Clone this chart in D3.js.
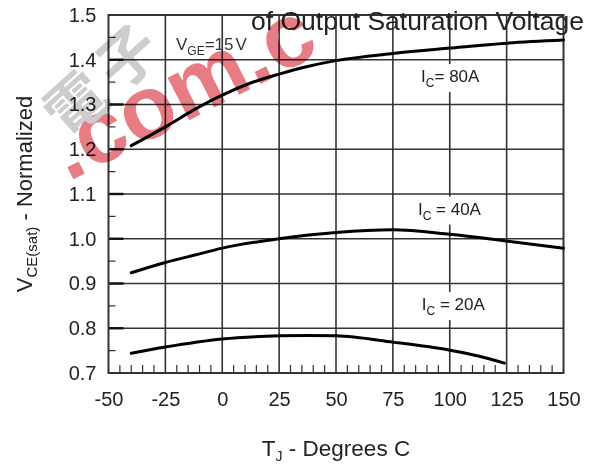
<!DOCTYPE html>
<html>
<head>
<meta charset="utf-8">
<script src="https://cdn.jsdelivr.net/npm/d3@7"></script>
<style>
  html, body { margin: 0; padding: 0; background: #fff; }
  svg { display: block; font-family: "Liberation Sans", Arial, sans-serif; }
</style>
</head>
<body>
<svg id="chart" width="591" height="465"></svg>
<script>
// Junction temperature (deg C) and normalized V_CE(sat) for each collector current
const temp80 = [-40, -25, -12.5, 0, 12.5, 25, 37.5, 50, 75, 100, 125, 150];
const vce80  = [1.208, 1.250, 1.288, 1.321, 1.348, 1.368, 1.385, 1.398, 1.414, 1.426, 1.437, 1.444];

const temp40 = [-40, -25, -12.5, 0, 25, 50, 75, 100, 125, 150];
const vce40  = [0.924, 0.947, 0.963, 0.979, 1.000, 1.014, 1.020, 1.010, 0.995, 0.979];

const temp20 = [-40, -25, 0, 25, 37.5, 50, 75, 100, 112.5, 124];
const vce20  = [0.744, 0.758, 0.776, 0.783, 0.784, 0.783, 0.769, 0.751, 0.738, 0.722];

// label anchors (left edge / baseline) in data units
const seriesLabels = [
  { sub: "C", text: "= 80A", t: 87.4, v: 1.350 },
  { sub: "C", text: " = 40A", t: 86.0, v: 1.054 },
  { sub: "C", text: " = 20A", t: 87.7, v: 0.841 }
];

const xTicks = [-50, -25, 0, 25, 50, 75, 100, 125, 150];
const yTicks = [0.7, 0.8, 0.9, 1.0, 1.1, 1.2, 1.3, 1.4, 1.5];

const svg = d3.select("#chart");
const x = d3.scaleLinear().domain([-50, 150]).range([108.5, 563.5]);
const y = d3.scaleLinear().domain([0.7, 1.5]).range([373, 15]);
const [x0, x1] = x.range();
const [y0, y1] = y.range();
const ink = "#222";
const gridColor = "#333";

// grid
const grid = svg.append("g");
grid.selectAll("line.gx").data(xTicks.slice(1, -1)).join("line")
  .attr("x1", d => x(d)).attr("x2", d => x(d))
  .attr("y1", y1).attr("y2", y0)
  .attr("stroke", gridColor).attr("stroke-width", 1.6);
grid.selectAll("line.gy").data(yTicks.slice(1, -1)).join("line")
  .attr("x1", x0).attr("x2", x1)
  .attr("y1", d => y(d)).attr("y2", d => y(d))
  .attr("stroke", gridColor).attr("stroke-width", 1.6);

// minor ticks
const xMinor = d3.range(-45, 150, 5).filter(d => d % 25 !== 0);
grid.selectAll("line.mx").data(xMinor).join("line")
  .attr("x1", d => x(d)).attr("x2", d => x(d))
  .attr("y1", y0).attr("y2", y0 - 8)
  .attr("stroke", gridColor).attr("stroke-width", 1.2);
const yMinor = d3.range(0.75, 1.5, 0.1);
grid.selectAll("line.my").data(yMinor).join("line")
  .attr("x1", x0).attr("x2", x0 + 7)
  .attr("y1", d => y(d)).attr("y2", d => y(d))
  .attr("stroke", gridColor).attr("stroke-width", 1.2);
grid.selectAll("line.My").data(yTicks.slice(1, -1)).join("line")
  .attr("x1", x0).attr("x2", x0 + 15)
  .attr("y1", d => y(d)).attr("y2", d => y(d))
  .attr("stroke", "#111").attr("stroke-width", 2.4);

// frame
svg.append("rect")
  .attr("x", x0).attr("y", y1)
  .attr("width", x1 - x0).attr("height", y0 - y1)
  .attr("fill", "none").attr("stroke", gridColor).attr("stroke-width", 2);

// tick labels through d3 axes (plain hyphen for negatives)
const xAxis = svg.append("g").attr("transform", `translate(0,${y0})`)
  .call(d3.axisBottom(x).tickValues(xTicks).tickSize(0).tickPadding(19).tickFormat(d => String(d)));
xAxis.select(".domain").remove();
xAxis.selectAll("text").attr("font-size", 20).attr("fill", ink)
  .attr("font-family", "Liberation Sans, Arial, sans-serif");

const yAxis = svg.append("g").attr("transform", `translate(${x0},0)`)
  .call(d3.axisLeft(y).tickValues(yTicks).tickSize(0).tickPadding(12).tickFormat(d3.format(".1f")));
yAxis.select(".domain").remove();
yAxis.selectAll("text").attr("font-size", 20).attr("fill", ink)
  .attr("font-family", "Liberation Sans, Arial, sans-serif");

// curves
const line = d3.line().x(d => x(d[0])).y(d => y(d[1])).curve(d3.curveMonotoneX);
const series = [
  d3.zip(temp80, vce80),
  d3.zip(temp40, vce40),
  d3.zip(temp20, vce20)
];
svg.append("g").selectAll("path").data(series).join("path")
  .attr("d", line)
  .attr("fill", "none").attr("stroke", "#000").attr("stroke-width", 3)
  .attr("stroke-linecap", "round");

// current labels on white boxes
const lab = svg.append("g").selectAll("g").data(seriesLabels).join("g")
  .attr("transform", d => `translate(${x(d.t)},${y(d.v)})`);
lab.append("rect").attr("x", -4).attr("y", -18).attr("width", 74).attr("height", 28).attr("fill", "#fff");
const lt = lab.append("text").attr("font-size", 17).attr("fill", ink);
lt.append("tspan").text("I");
lt.append("tspan").attr("font-size", 12).attr("dy", 5).text(d => d.sub);
lt.append("tspan").attr("dy", -5).text(d => d.text);

// gate voltage note
const vge = svg.append("text").attr("x", 176).attr("y", 50).attr("font-size", 17).attr("fill", "#333");
vge.append("tspan").text("V");
vge.append("tspan").attr("font-size", 12).attr("dy", 5).text("GE");
vge.append("tspan").attr("dy", -5).text("=15");
vge.append("tspan").attr("dx", 2).text("V");

// title (second line)
svg.append("text").attr("x", 584).attr("y", 30).attr("text-anchor", "end")
  .attr("font-size", 26.5).attr("fill", ink).text("of Output Saturation Voltage");

// axis titles
const xt = svg.append("text").attr("x", x((xTicks[0] + xTicks[xTicks.length - 1]) / 2)).attr("y", 456)
  .attr("text-anchor", "middle").attr("font-size", 22.5).attr("fill", ink);
xt.append("tspan").text("T");
xt.append("tspan").attr("font-size", 14).attr("dy", 5).text("J");
xt.append("tspan").attr("dy", -5).text(" - Degrees C");

const yt = svg.append("text").attr("transform", `translate(32,${(y0 + y1) / 2}) rotate(-90)`)
  .attr("text-anchor", "middle").attr("font-size", 22).attr("fill", ink);
yt.append("tspan").text("V");
yt.append("tspan").attr("font-size", 15).attr("dy", 5).text("CE(sat)");
yt.append("tspan").attr("dy", -5).text(" - Normalized");

// site stamp
const stamp = svg.append("g").style("mix-blend-mode", "multiply");
stamp.append("text").attr("transform", "translate(68,182) rotate(-27)")
  .attr("font-size", 90).attr("font-weight", "bold").attr("fill", "#e87c84")
  .attr("font-family", "Liberation Sans, Arial, sans-serif")
  .text(".com.c");
stamp.append("text").attr("transform", "translate(68,140) rotate(-42)")
  .attr("font-size", 60).attr("font-weight", "bold").attr("fill", "#cdcdcd")
  .attr("letter-spacing", 10)
  .attr("font-family", "Noto Sans CJK SC, sans-serif")
  .text("電子");
</script>
</body>
</html>
